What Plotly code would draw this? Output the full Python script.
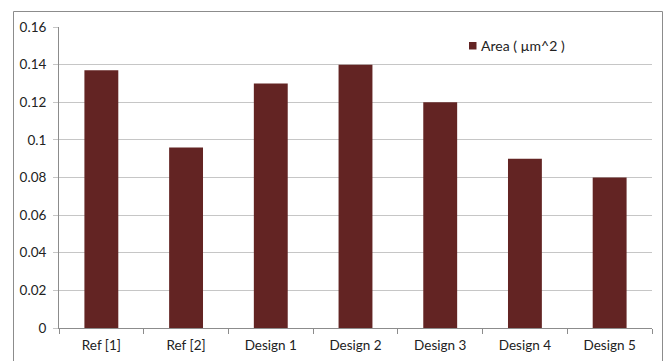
import plotly.graph_objects as go

categories = ["Ref [1]", "Ref [2]", "Design 1", "Design 2", "Design 3", "Design 4", "Design 5"]
area_values = [0.137, 0.096, 0.130, 0.140, 0.120, 0.090, 0.080]
series_name = "Area ( µm^2 )"
y_ticks = [0, 0.02, 0.04, 0.06, 0.08, 0.1, 0.12, 0.14, 0.16]
y_tick_labels = ["0", "0.02", "0.04", "0.06", "0.08", "0.1", "0.12", "0.14", "0.16"]
bar_color = "#632423"

W, H = 667, 361
L, R, T, B = 59, 15, 27, 33
pw, ph = W - L - R, H - T - B

def px_x(p):
    return (p - L) / pw

def px_y(p):
    return (H - B - p) / ph

font = dict(family="Lato, Open Sans, sans-serif", size=13.5, color="#222222")
legend_font = dict(family="Lato, Open Sans, sans-serif", size=14, color="#222222")

fig = go.Figure()
fig.add_trace(go.Bar(
    x=categories, y=area_values, name=series_name,
    marker=dict(color=bar_color, line=dict(width=0)),
    showlegend=False,
))

fig.update_layout(
    width=W, height=H,
    margin=dict(l=L, r=R, t=T, b=B, pad=0, autoexpand=False),
    paper_bgcolor="white", plot_bgcolor="white",
    font=font,
    bargap=0.6,
    xaxis=dict(
        showgrid=False, showline=True, linecolor="#8c8c8c", linewidth=1,
        ticks="outside", ticklen=5, tickcolor="#8c8c8c",
        tickson="boundaries", tickfont=font, ticklabelstandoff=5,
        automargin=False,
    ),
    yaxis=dict(
        range=[0, 0.16], tickvals=y_ticks, ticktext=y_tick_labels,
        showgrid=True, gridcolor="#c6c6c6", gridwidth=1,
        showline=True, linecolor="#8c8c8c", linewidth=1,
        ticks="outside", ticklen=5, tickcolor="#c6c6c6",
        tickfont=font, zeroline=False, ticklabelstandoff=4,
        automargin=False,
    ),
    shapes=[
        dict(type="rect", xref="paper", yref="paper",
             x0=px_x(13.5), x1=px_x(662.5), y0=px_y(380), y1=px_y(11.5),
             line=dict(color="#8c8c8c", width=1), fillcolor="rgba(0,0,0,0)",
             layer="below"),
        dict(type="rect", xref="paper", yref="paper",
             x0=px_x(469), x1=px_x(476.5), y0=px_y(49.5), y1=px_y(42),
             line=dict(width=0), fillcolor=bar_color),
    ],
    annotations=[dict(
        xref="paper", yref="paper", x=px_x(478.5), y=px_y(46),
        xanchor="left", yanchor="middle", showarrow=False,
        text=series_name, font=legend_font,
    )],
)

fig.write_html("out.html")
